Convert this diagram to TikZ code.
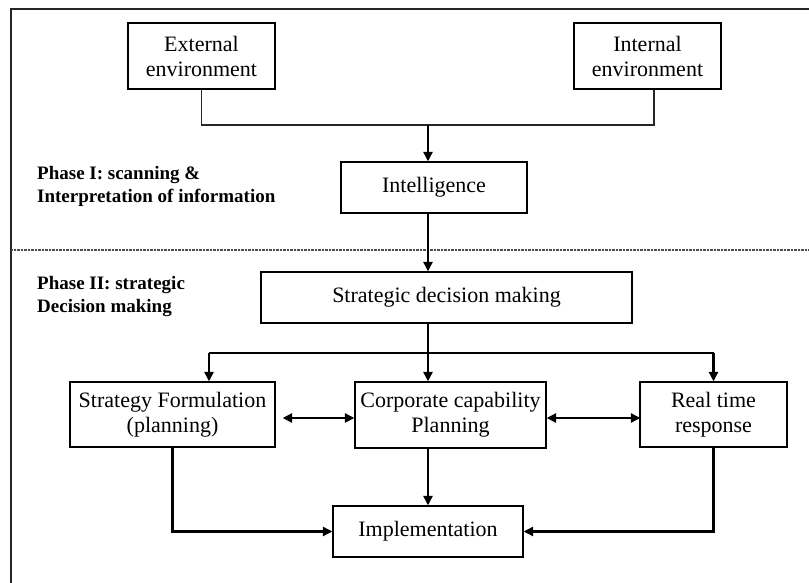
\documentclass[tikz,border=0pt]{standalone}
\usepackage{fontspec}
\setmainfont{Liberation Serif}
\usetikzlibrary{arrows.meta}
\begin{document}
\begin{tikzpicture}[x=1pt,y=-1pt,
  box/.style={draw, line width=1.2pt, rectangle, inner sep=0pt, align=center,
              font=\fontsize{22}{25}\selectfont},
  thinline/.style={line width=1.3pt, black!85},
  arr/.style={line width=2.3pt, -{Triangle[length=9.5pt,width=9pt]}},
  arrtwo/.style={line width=2.3pt, {Triangle[length=9.5pt,width=9pt]}-{Triangle[length=9.5pt,width=9pt]}},
  phase/.style={anchor=north west, inner sep=0pt, align=left,
                font=\fontsize{19}{23.5}\selectfont\bfseries},
  frame/.style={line width=1.4pt, black!85},
  divider/.style={line width=1.1pt, black!70, dash pattern=on 1pt off 0.4pt}]
\useasboundingbox (0,0) rectangle (809,583);

% frame and divider
\draw[frame] (11,583) -- (11,9) -- (809,9);
\draw[divider] (11,250) -- (809,250);

% nodes
\node[box, minimum width=147, minimum height=66] (ext) at (201.5,56) {External\\environment};
\node[box, minimum width=147, minimum height=66] (int) at (647.5,56) {Internal\\environment};
\node[box, minimum width=186, minimum height=51] (intel) at (434,187.5) {Intelligence};
\node[box, minimum width=371, minimum height=51] (sdm) at (446.5,297.5) {Strategic decision making};
\node[box, minimum width=205, minimum height=65] (sf) at (172.5,414.5) {Strategy Formulation\\(planning)};
\node[box, minimum width=191, minimum height=66] (ccp) at (450.5,415) {Corporate capability\\Planning};
\node[box, minimum width=147, minimum height=65] (rt) at (713.5,414.5) {Real time\\response};
\node[box, minimum width=190, minimum height=51] (impl) at (428,531.5) {Implementation};

\node[phase] (p1) at (37,166) {Phase I: scanning \&\\Interpretation of information};
\node[phase] (p2) at (37,276) {Phase II: strategic\\Decision making};

% coordinates
\coordinate (m) at (428,125);
\coordinate (s) at (428,353);
\coordinate (h) at (0,418);
\coordinate (intx) at ([xshift=6.5pt]int.south);
\coordinate (sfx) at ([xshift=36.5pt]sf.north);

% top merge
\draw[thinline] (ext.south) -- (ext.south |- m) -- (intx |- m) -- (intx);
\draw[arr] (m) -- (intel.north -| m);
\draw[arr] (intel.south -| m) -- (sdm.north -| m);

% split
\draw[arr] (sdm.south -| s) -- (ccp.north -| s);
\draw[line width=1.8pt] (sfx |- s) -- (rt.north |- s);
\draw[arr] (sfx |- s) -- (sfx);
\draw[arr] (rt.north |- s) -- (rt.north);

% double arrows
\draw[arrtwo] ([xshift=7pt]sf.east |- h) -- (ccp.west |- h);
\draw[arrtwo] (ccp.east |- h) -- ([xshift=1pt]rt.west |- h);

% to implementation
\draw[arr] (sf.south) |- (impl.west);
\draw[arr] (ccp.south -| m) -- (impl.north);
\draw[arr] (rt.south) |- (impl.east);
\end{tikzpicture}
\end{document}
